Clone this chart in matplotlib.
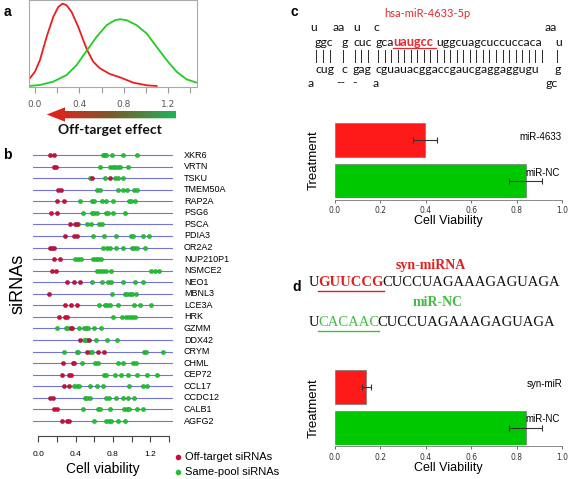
import numpy as np
import matplotlib.pyplot as plt
from matplotlib.colors import LinearSegmentedColormap
from matplotlib.patches import Polygon

W, H = 570, 479

# ---- panel a: density curves
dens_red_x = [-0.051, 0.0, 0.045, 0.105, 0.165, 0.21, 0.25, 0.285, 0.33, 0.39,
              0.435, 0.47, 0.525, 0.585, 0.675, 0.766, 0.886, 1.006, 1.096]
dens_red_y = [0.25, 0.47, 0.82, 1.52, 2.12, 2.42, 2.52, 2.47, 2.27, 1.82,
              1.42, 1.12, 0.77, 0.57, 0.40, 0.30, 0.14, 0.06, 0.04]
dens_green_x = [-0.05, 0.045, 0.165, 0.285, 0.375, 0.47, 0.555, 0.645, 0.72,
                0.766, 0.826, 0.916, 1.006, 1.096, 1.186, 1.276, 1.366, 1.456]
dens_green_y = [0.04, 0.07, 0.17, 0.37, 0.67, 1.12, 1.52, 1.87, 2.02,
                2.05, 2.02, 1.87, 1.62, 1.22, 0.82, 0.47, 0.24, 0.14]

# ---- panel b: cell viability per siRNA (top to bottom)
genes = ['XKR6', 'VRTN', 'TSKU', 'TMEM50A', 'RAP2A', 'PSG6', 'PSCA', 'PDIA3',
         'OR2A2', 'NUP210P1', 'NSMCE2', 'NEO1', 'MBNL3', 'LCE3A', 'HRK', 'GZMM',
         'DDX42', 'CRYM', 'CHML', 'CEP72', 'CCL17', 'CCDC12', 'CALB1', 'AGFG2']
off_target = [
    [0.12, 0.17], [0.17, 0.19], [0.58, 0.77], [0.21, 0.24], [0.195, 0.27],
    [0.13, 0.195], [0.34, 0.39, 0.41], [0.28, 0.385, 0.41], [0.12, 0.145, 0.17],
    [0.17, 0.23], [0.15, 0.19], [0.31, 0.38, 0.45], [0.11], [0.29, 0.35, 0.41],
    [0.22, 0.28, 0.31], [0.345, 0.365], [0.445, 0.545], [0.525, 0.64, 0.70],
    [0.26, 0.37, 0.385], [0.25, 0.33, 0.35], [0.27, 0.33], [0.12, 0.16],
    [0.17, 0.195], [0.25, 0.31, 0.33]]
same_pool = [
    [0.69, 0.715, 0.73, 0.79, 0.91, 1.06],
    [0.66, 0.77, 0.80, 0.82, 0.85, 0.88, 0.96],
    [0.55, 0.72, 0.82, 0.85, 0.91],
    [0.63, 0.66, 0.86, 0.905, 0.95, 1.03, 1.06],
    [0.45, 0.57, 0.60, 0.68, 0.73, 0.80, 0.97, 0.99, 1.04],
    [0.475, 0.58, 0.60, 0.63, 0.73, 0.75, 0.80, 0.93],
    [0.42, 0.525, 0.56, 0.65, 0.68],
    [0.59, 0.70, 0.83, 0.99, 1.02, 1.12, 1.19],
    [0.69, 0.74, 0.77, 0.83, 0.905, 1.0, 1.03, 1.06, 1.145],
    [0.39, 0.43, 0.46, 0.59, 0.615, 0.64, 0.67],
    [0.63, 0.66, 0.69, 0.73, 0.78, 1.21, 1.25, 1.30],
    [0.57, 0.68, 0.75, 0.78, 0.91, 1.04, 1.12],
    [0.79, 0.93, 0.955, 0.98, 1.01, 1.05],
    [0.65, 0.715, 0.74, 0.77, 0.85, 1.03, 1.09, 1.21],
    [0.80, 0.90, 0.94, 0.97, 1.0, 1.04],
    [0.20, 0.30, 0.32, 0.44, 0.49, 0.51, 0.53, 0.60, 0.67],
    [0.49, 0.51, 0.525, 0.62, 0.74, 0.845],
    [0.275, 0.41, 0.43, 0.555, 0.57, 1.13, 1.155, 1.34],
    [0.47, 0.61, 0.64, 0.85, 0.91, 1.02, 1.05],
    [0.70, 0.73, 0.82, 0.89, 0.96, 1.06, 1.17, 1.27],
    [0.385, 0.41, 0.435, 0.55, 0.63, 0.69, 0.97, 1.12, 1.17],
    [0.50, 0.525, 0.55, 0.73, 0.76, 0.83, 0.91, 0.965, 1.03],
    [0.48, 0.64, 0.66, 0.77, 0.92, 0.95, 0.97, 1.06, 1.12],
    [0.60, 0.73, 0.76, 0.78, 0.85, 0.93]]

# ---- panels c and d: bar charts
c_labels = ['miR-4633', 'miR-NC']
c_values = [0.397, 0.84]
c_err = [0.053, 0.074]
d_labels = ['syn-miR', 'miR-NC']
d_values = [0.137, 0.84]
d_err = [0.02, 0.073]
viab_ticks = [0.0, 0.2, 0.4, 0.6, 0.8, 1.0]

RED = '#ff1a1a'
GREEN = '#00c800'
SANS = 'Liberation Sans'
SERIF = 'Liberation Serif'

fig = plt.figure(figsize=(W / 100, H / 100), dpi=100)


def ax_px(l, t, r, b):
    return fig.add_axes([l / W, 1 - b / H, (r - l) / W, (b - t) / H])


# ---------------- panel a
ax_a = ax_px(29.3, 0.3, 196.7, 87.3)
ax_a.plot(dens_red_x, dens_red_y, color='#ee1c1c', lw=1.3)
ax_a.plot(dens_green_x, dens_green_y, color='#22cc22', lw=1.3)
ax_a.set_xlim(-0.051, 1.457)
ax_a.set_ylim(0, 2.62)
ax_a.set_yticks([])
ax_a.set_xticks(np.arange(0, 1.41, 0.2))
ax_a.set_xticklabels(['0.0', '', '0.4', '', '0.8', '', '1.2', ''])
ax_a.tick_params(axis='x', length=4, width=0.8, color='#999999',
                 labelcolor='#555555', labelsize=6.5, pad=5)
for s in ax_a.spines.values():
    s.set_color('#aaaaaa')
    s.set_linewidth(0.8)

# ---------------- panel b
n = len(genes)
row_step = (421 - 155) / (n - 1)
ax_b = ax_px(33, 150, 173, 436)
for k, g in enumerate(genes):
    v = n - 1 - k
    ax_b.axhline(v, color='#7373e0', lw=0.8, zorder=1)
    ax_b.plot(same_pool[k], [v] * len(same_pool[k]), 'o', ms=3, color='#22c034',
              mec='#189a28', mew=0.3, zorder=3)
    ax_b.plot(off_target[k], [v] * len(off_target[k]), 'o', ms=3, color='#c8103c',
              mec='#a00a30', mew=0.3, zorder=4)
ax_b.set_xlim(-0.059, 1.446)
ax_b.set_ylim(-(436 - 421) / row_step, (421 - 150) / row_step)
ax_b.set_yticks([])
ax_b.set_xticks(np.arange(0, 1.41, 0.2))
ax_b.set_xticklabels(['0.0', '', '0.4', '', '0.8', '', '1.2', ''], family=SANS)
ax_b.tick_params(axis='x', length=4.5, width=0.8, color='#444444',
                 labelsize=6, pad=6)
for s in ['top', 'left', 'right']:
    ax_b.spines[s].set_visible(False)
ax_b.spines['bottom'].set_bounds(0, 1.4)
ax_b.spines['bottom'].set_color('#444444')
ax_b.spines['bottom'].set_linewidth(0.8)
ax_b.patch.set_visible(False)


# ---------------- panels c, d
def bar_panel(top, values, errs):
    ax = ax_px(335, top, 562, top + 75)
    ax.barh([1.8, 0.6], values, height=1.0, color=[RED, GREEN],
            edgecolor='#777777', lw=0.5, xerr=errs,
            error_kw=dict(ecolor='#333333', elinewidth=0.8, capsize=2, capthick=0.8))
    ax.set_xlim(0, 1)
    ax.set_ylim(0.1, 2.3)
    ax.set_yticks([])
    ax.set_xticks(viab_ticks)
    ax.set_xticklabels(['%.1f' % t for t in viab_ticks], family=SANS)
    ax.tick_params(axis='x', length=2.5, width=0.6, color='#555555',
                   labelsize=5.5, labelcolor='#333333', pad=2)
    for s in ['top', 'left', 'right']:
        ax.spines[s].set_visible(False)
    ax.spines['bottom'].set_color('#777777')
    ax.spines['bottom'].set_linewidth(0.6)
    ax.spines['bottom'].set_position(('outward', 1))
    ax.patch.set_visible(False)
    return ax


bar_panel(123.3, c_values, c_err)
bar_panel(370, d_values, d_err)

# ---------------- overlay for text and the arrow
ov = fig.add_axes([0, 0, 1, 1])
ov.axis('off')

# gradient arrow
cmap = LinearSegmentedColormap.from_list('eff', ['#ee1c1c', '#7a5a2a', '#1fb45a'])
grad = np.linspace(0, 1, 256).reshape(1, -1)
img = ov.imshow(grad, cmap=cmap, extent=(46.7, 176, 121.7, 107.3), aspect='auto')
arrow = Polygon([(46.7, 114.5), (65, 107.3), (65, 111), (176, 111), (176, 118.3),
                 (65, 118.3), (65, 121.7)], closed=True, transform=ov.transData,
                facecolor='none', edgecolor='none')
ov.add_patch(arrow)
img.set_clip_path(arrow)
ov.set_xlim(0, W)
ov.set_ylim(H, 0)

ov.text(110, 130, 'Off-target effect', family='Lato', weight='bold', fontsize=10,
        ha='center', va='center', color='#111111')

# panel letters
for lab, x, y in [('a', 7, 12), ('b', 7, 155), ('c', 294, 12), ('d', 297, 287)]:
    ov.text(x, y, lab, family=SANS, weight='bold', fontsize=10, ha='center', va='center')

# panel b labels
for k, g in enumerate(genes):
    ov.text(184, 155 + k * row_step, g, family=SANS, fontsize=6.5, ha='left', va='center')
ov.text(18, 284, 'siRNAs', family=SANS, fontsize=13, rotation=90, ha='center', va='center')
ov.text(103, 469, 'Cell viability', family=SANS, fontsize=10, ha='center', va='center')
ov.plot([178], [457], 'o', ms=3, color='#c8103c')
ov.plot([178], [472], 'o', ms=3, color='#22c034')
ov.text(185, 457, 'Off-target siRNAs', family=SANS, fontsize=8, ha='left', va='center')
ov.text(185, 472, 'Same-pool siRNAs', family=SANS, fontsize=8, ha='left', va='center')

# panel c hairpin
ov.text(427, 13, 'hsa-miR-4633-5p', family='Lato', fontsize=8, color='#e8282d',
        ha='center', va='center')
seq_rows = [
    (27, [(310, 'u'), (333, 'aa'), (353, 'u'), (373, 'c'), (545, 'aa')]),
    (42, [(315, 'ggc'), (341.5, 'g'), (353, 'cuc'), (376, 'gca'),
          (436, 'uggcuagcuccuccaca'), (555, 'u')]),
    (69, [(315, 'cug'), (341.5, 'c'), (353, 'gag'),
          (376, 'cguauacggaccgaucgaggaggugu'), (555, 'g')]),
    (83, [(308, 'a'), (336, '--'), (352, '-'), (373, 'a'), (546, 'gc')]),
]
for y, segs in seq_rows:
    for x, s in segs:
        ov.text(x, y, s, family='Lato', fontsize=8.8, ha='left', va='center', color='#111111')
ov.text(393, 42, 'uaugcc', family='Lato', weight='bold', fontsize=9.2, ha='left',
        va='center', color='#e8282d')
ov.plot([393, 436], [47.5, 47.5], color='#e8282d', lw=0.9)
for x0, cnt, step in [(316.5, 3, 6.8), (343, 1, 6.5), (355.5, 3, 6.3),
                      (378.5, 26, 6.55), (557, 1, 6.5)]:
    for i in range(cnt):
        ov.text(x0 + i * step, 56, '|', family='Lato', fontsize=9, ha='center',
                va='center', color='#111111')

# bar chart labels
ov.text(562, 137, c_labels[0], family=SANS, fontsize=7, ha='right', va='center')
ov.text(560, 173, c_labels[1], family=SANS, fontsize=7, ha='right', va='center')
ov.text(562, 384, d_labels[0], family=SANS, fontsize=7, ha='right', va='center')
ov.text(560, 419, d_labels[1], family=SANS, fontsize=7, ha='right', va='center')
for y in [221, 468]:
    ov.text(448, y, 'Cell Viability', family=SANS, fontsize=9, ha='center', va='center')
for y in [160, 408]:
    ov.text(314, y, 'Treatment', family=SANS, fontsize=9.5, rotation=90,
            ha='center', va='center')

# panel d sequences: segments laid out one after another
ov.text(431, 266, 'syn-miRNA', family=SERIF, weight='bold', fontsize=10,
        color='#dd2020', ha='center', va='center')
ov.text(438, 303, 'miR-NC', family=SERIF, weight='bold', fontsize=10,
        color='#44bb44', ha='center', va='center')
renderer = fig.canvas.get_renderer()


def seq_line(y, parts):
    x = 309
    for s, color, weight, under in parts:
        t = ov.text(x, y, s, family=SERIF, fontsize=10.5, weight=weight,
                    color=color, ha='left', va='center')
        w = t.get_window_extent(renderer).width
        if under:
            ov.plot([x, x + w], [y + 7.5, y + 7.5], color=color, lw=1)
        x += w - 1.5


seq_line(283, [('U', '#111111', 'normal', False),
               ('GUUCCG', '#dd2020', 'bold', True),
               ('CUCCUAGAAAGAGUAGA', '#111111', 'normal', False)])
seq_line(323, [('U', '#111111', 'normal', False),
               ('CACAAC', '#44bb44', 'normal', True),
               ('CUCCUAGAAAGAGUAGA', '#111111', 'normal', False)])

fig.savefig('out.png', dpi=100)
